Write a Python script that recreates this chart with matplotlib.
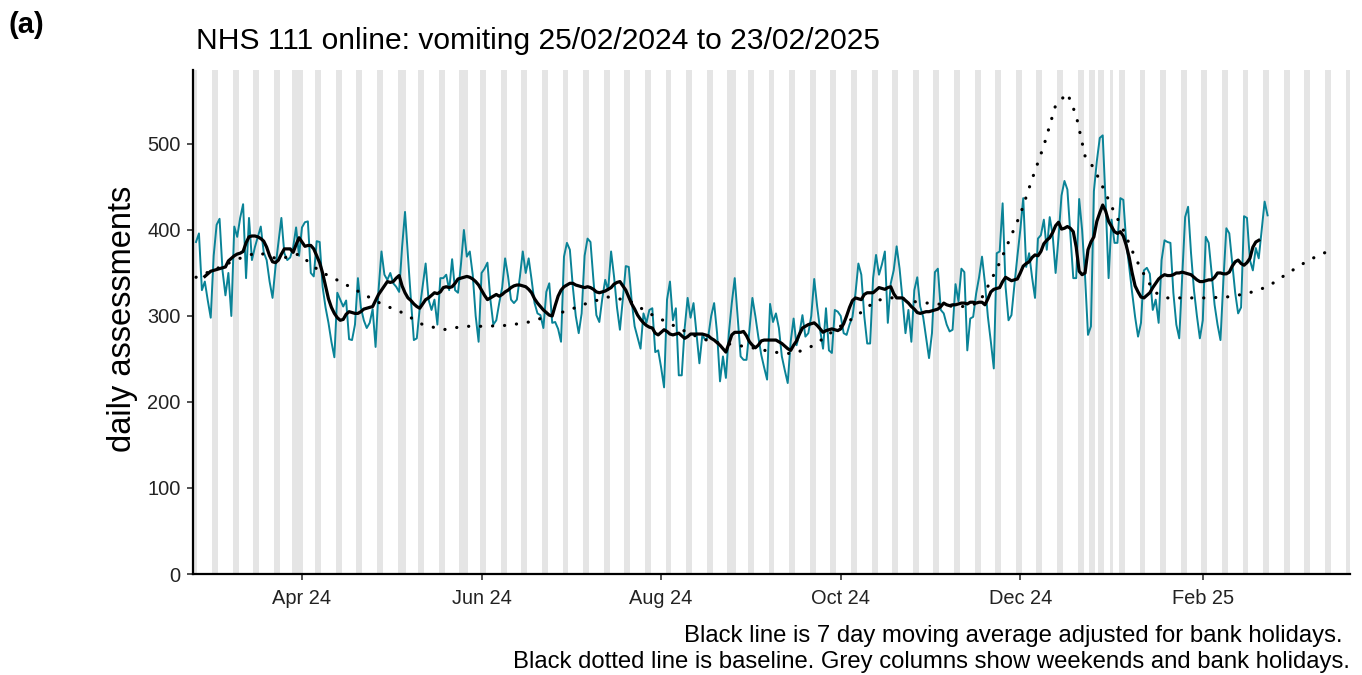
import pandas as pd
import matplotlib
matplotlib.use("Agg")
import matplotlib.pyplot as plt
import matplotlib.dates as mdates

plt.rcParams['font.family'] = ['Liberation Sans', 'DejaVu Sans']

# daily NHS 111 online assessments, one row per week (Sun..Sat), from 25/02/2024
start = "2024-02-25"
daily = [
    386, 396, 330, 340, 318, 298, 370,
    406, 413, 353, 324, 350, 300, 404,
    392, 414, 430, 344, 414, 365, 380,
    392, 404, 374, 365, 340, 321, 357,
    385, 414, 373, 365, 368, 380, 403,
    370, 403, 409, 410, 350, 346, 387,
    386, 334, 310, 292, 270, 252, 327,
    319, 311, 318, 273, 272, 290, 344,
    310, 295, 286, 292, 308, 264, 330,
    375, 348, 342, 350, 338, 334, 328,
    380, 421, 369, 319, 272, 274, 309,
    335, 361, 319, 307, 319, 290, 344,
    344, 348, 330, 366, 330, 327, 360,
    400, 369, 375, 348, 300, 270, 350,
    355, 362, 319, 290, 295, 315, 333,
    367, 346, 319, 315, 319, 345, 375,
    350, 367, 342, 315, 303, 301, 286,
    328, 338, 292, 293, 285, 270, 369,
    385, 377, 334, 300, 280, 303, 370,
    390, 386, 342, 301, 293, 320, 342,
    330, 375, 346, 310, 284, 320, 358,
    357, 317, 288, 275, 262, 303, 292,
    307, 309, 258, 260, 240, 217, 319,
    340, 295, 309, 231, 231, 286, 321,
    298, 315, 280, 245, 278, 272, 276,
    300, 315, 280, 224, 253, 228, 280,
    315, 344, 299, 253, 249, 249, 284,
    321, 300, 276, 255, 240, 226, 314,
    293, 303, 286, 253, 237, 222, 270,
    297, 266, 280, 301, 276, 280, 300,
    343, 311, 284, 262, 309, 260, 257,
    307, 305, 300, 280, 278, 290, 299,
    326, 361, 348, 300, 268, 268, 344,
    371, 348, 360, 375, 292, 338, 353,
    381, 355, 319, 280, 307, 270, 330,
    345, 311, 299, 275, 251, 280, 351,
    355, 307, 303, 290, 282, 284, 337,
    317, 355, 351, 260, 297, 299, 326,
    345, 369, 338, 299, 270, 239, 373,
    375, 431, 334, 295, 301, 336, 369,
    400, 437, 357, 373, 345, 321, 390,
    394, 412, 377, 415, 394, 350, 392,
    440, 457, 447, 395, 344, 344, 436,
    400, 346, 278, 288, 445, 480, 507,
    510, 431, 344, 412, 385, 385, 437,
    435, 385, 357, 327, 299, 276, 292,
    353, 356, 349, 307, 319, 292, 365,
    388, 386, 385, 327, 290, 274, 346,
    415, 427, 373, 330, 300, 274, 295,
    392, 385, 350, 313, 290, 272, 342,
    402, 396, 361, 327, 303, 310, 416,
    414, 365, 353, 379, 367, 400, 433,
    417,
]

# 7 day moving average (adjusted for bank holidays), from 28/02/2024
ma_start = "2024-02-28"
moving_avg = [
    346, 349, 352, 353, 354, 355, 356, 357, 364, 367,
    370, 372, 373, 375, 385, 392, 393, 393, 392, 390,
    387, 380, 370, 363, 362, 365, 372, 378, 378, 378,
    374, 383, 391, 386, 381, 382, 382, 378, 370, 362,
    350, 335, 320, 310, 303, 298, 295, 296, 302, 305,
    304, 303, 303, 305, 308, 309, 310, 311, 318, 325,
    330, 335, 340, 339, 340, 344, 347, 335, 327, 321,
    318, 314, 311, 309, 314, 319, 321, 324, 327, 326,
    328, 333, 334, 333, 334, 338, 343, 344, 345, 346,
    345, 343, 340, 336, 330, 324, 319, 321, 323, 325,
    323, 325, 328, 330, 333, 335, 336, 336, 335, 334,
    331, 327, 320, 315, 311, 307, 304, 301, 300, 312,
    323, 330, 334, 336, 338, 338, 336, 335, 334, 333,
    334, 333, 331, 328, 327, 328, 329, 331, 333, 337,
    339, 340, 335, 330, 322, 314, 308, 301, 296, 292,
    289, 287, 286, 280, 278, 281, 284, 282, 279, 278,
    279, 280, 277, 274, 276, 279, 279, 279, 279, 279,
    278, 277, 274, 272, 269, 266, 262, 258, 268, 278,
    281, 281, 281, 282, 277, 270, 266, 263, 266, 271,
    272, 272, 272, 272, 272, 270, 268, 265, 262, 260,
    266, 271, 279, 286, 288, 290, 291, 292, 289, 285,
    281, 283, 284, 285, 284, 283, 285, 291, 300, 310,
    318, 321, 320, 319, 325, 327, 327, 327, 330, 333,
    332, 331, 333, 334, 326, 321, 321, 321, 318, 315,
    311, 308, 304, 303, 304, 305, 305, 306, 307, 308,
    311, 315, 313, 312, 313, 313, 314, 315, 315, 314,
    316, 316, 315, 316, 316, 313, 320, 328, 331, 332,
    333, 340, 345, 343, 341, 342, 343, 350, 358, 361,
    363, 368, 371, 370, 375, 384, 388, 391, 397, 405,
    409, 401, 402, 404, 402, 398, 380, 352, 348, 350,
    377, 386, 392, 410, 420, 429, 422, 410, 404, 398,
    396, 398, 393, 382, 368, 350, 335, 328, 322, 321,
    324, 327, 333, 338, 343, 346, 348, 347, 347, 348,
    350, 350, 351, 350, 349, 348, 345, 342, 340, 340,
    341, 342, 342, 345, 350, 350, 349, 349, 351, 358,
    363, 365, 361, 359, 362, 367, 380, 386, 388,
]

baseline_dates = [
    "2024-02-25", "2024-03-03", "2024-03-10", "2024-03-17", "2024-03-24",
    "2024-03-31", "2024-04-07", "2024-04-14", "2024-04-21", "2024-04-28",
    "2024-05-05", "2024-05-12", "2024-05-19", "2024-05-26", "2024-06-02",
    "2024-06-09", "2024-06-16", "2024-06-23", "2024-06-30", "2024-07-07",
    "2024-07-14", "2024-07-21", "2024-07-28", "2024-08-04", "2024-08-11",
    "2024-08-18", "2024-08-25", "2024-09-01", "2024-09-08", "2024-09-15",
    "2024-09-22", "2024-09-29", "2024-10-06", "2024-10-13", "2024-10-20",
    "2024-10-27", "2024-11-03", "2024-11-10", "2024-11-17", "2024-11-21",
    "2024-11-24", "2024-11-27", "2024-12-01", "2024-12-05", "2024-12-09",
    "2024-12-13", "2024-12-17", "2024-12-20", "2024-12-23", "2024-12-26",
    "2024-12-29", "2025-01-02", "2025-01-05", "2025-01-09", "2025-01-13",
    "2025-01-16", "2025-01-20", "2025-01-26", "2025-02-02", "2025-02-09",
    "2025-02-16", "2025-02-23", "2025-03-02", "2025-03-09", "2025-03-16",
    "2025-03-18",
]
baseline = [
    345, 355, 366, 374, 366,
    372, 352, 340, 327, 314,
    304, 290, 284, 288, 288,
    289, 292, 299, 306, 315,
    322, 318, 303, 291, 279,
    270, 267, 263, 258, 256,
    266, 284, 299, 318, 322,
    316, 314, 310, 315, 341,
    362, 386, 418, 459, 498,
    545, 559, 533, 486, 472,
    450, 420, 400, 368, 342,
    327, 321, 321, 321, 322,
    326, 334, 350, 365, 376,
    378,
]

bank_holidays = ["2024-03-29", "2024-04-01", "2024-05-06", "2024-05-27",
                 "2024-08-26", "2024-12-25", "2024-12-26", "2025-01-01"]

tick_dates = ["2024-04-01", "2024-06-01", "2024-08-01", "2024-10-01",
              "2024-12-01", "2025-02-01"]

days = pd.date_range(start, periods=len(daily), freq="D")
ma_days = pd.date_range(ma_start, periods=len(moving_avg), freq="D")
bl_days = pd.to_datetime(baseline_dates)

span = pd.date_range("2024-02-24", "2025-03-23", freq="D")
grey_days = span[(span.dayofweek >= 5) | span.isin(pd.to_datetime(bank_holidays))]

ytop = 586

fig = plt.figure(figsize=(13.62, 6.75), dpi=100)
ax = fig.add_axes([193 / 1362, 1 - 574 / 675, 1157 / 1362, 504 / 675])

ax.bar(grey_days, ytop, width=1, bottom=0, color="#E5E5E5", linewidth=0, zorder=0)
ax.plot(days, daily, color="#0A8397", lw=1.4, zorder=2)
ax.plot(ma_days, moving_avg, color="black", lw=2.3, zorder=3)
ax.plot(bl_days, baseline, color="black", lw=2.3, linestyle=(0, (0.05, 3.7)),
        dash_capstyle="round", zorder=4)

ax.set_xlim(pd.Timestamp("2024-02-23 23:30"), pd.Timestamp("2025-03-23"))
ax.set_ylim(0, ytop)
ax.set_xticks(pd.to_datetime(tick_dates))
ax.xaxis.set_major_formatter(mdates.DateFormatter("%b %y"))
ax.set_yticks([0, 100, 200, 300, 400, 500])

for side in ["top", "right"]:
    ax.spines[side].set_visible(False)
for side in ["left", "bottom"]:
    ax.spines[side].set_linewidth(1.6)

ax.tick_params(axis="both", labelsize=14.4, length=4, width=1.1,
               colors="#222222", labelcolor="#222222")
ax.tick_params(axis="x", pad=7)
ax.tick_params(axis="y", pad=5)

fig.text(123 / 1362, 1 - 319 / 675, "daily assessments", rotation=90,
         ha="center", va="center", fontsize=23.5)
fig.text(196 / 1362, 1 - 49 / 675, "NHS 111 online: vomiting 25/02/2024 to 23/02/2025",
         ha="left", va="baseline", fontsize=21.6)
fig.text(8 / 1362, 1 - 33 / 675, "(a)", ha="left", va="baseline",
         fontsize=21, fontweight="bold")
fig.text(1343 / 1362, 1 - 642 / 675,
         "Black line is 7 day moving average adjusted for bank holidays.",
         ha="right", va="baseline", fontsize=17.2)
fig.text(1350 / 1362, 1 - 668 / 675,
         "Black dotted line is baseline. Grey columns show weekends and bank holidays.",
         ha="right", va="baseline", fontsize=17.2)

fig.savefig("out.png", dpi=100)
